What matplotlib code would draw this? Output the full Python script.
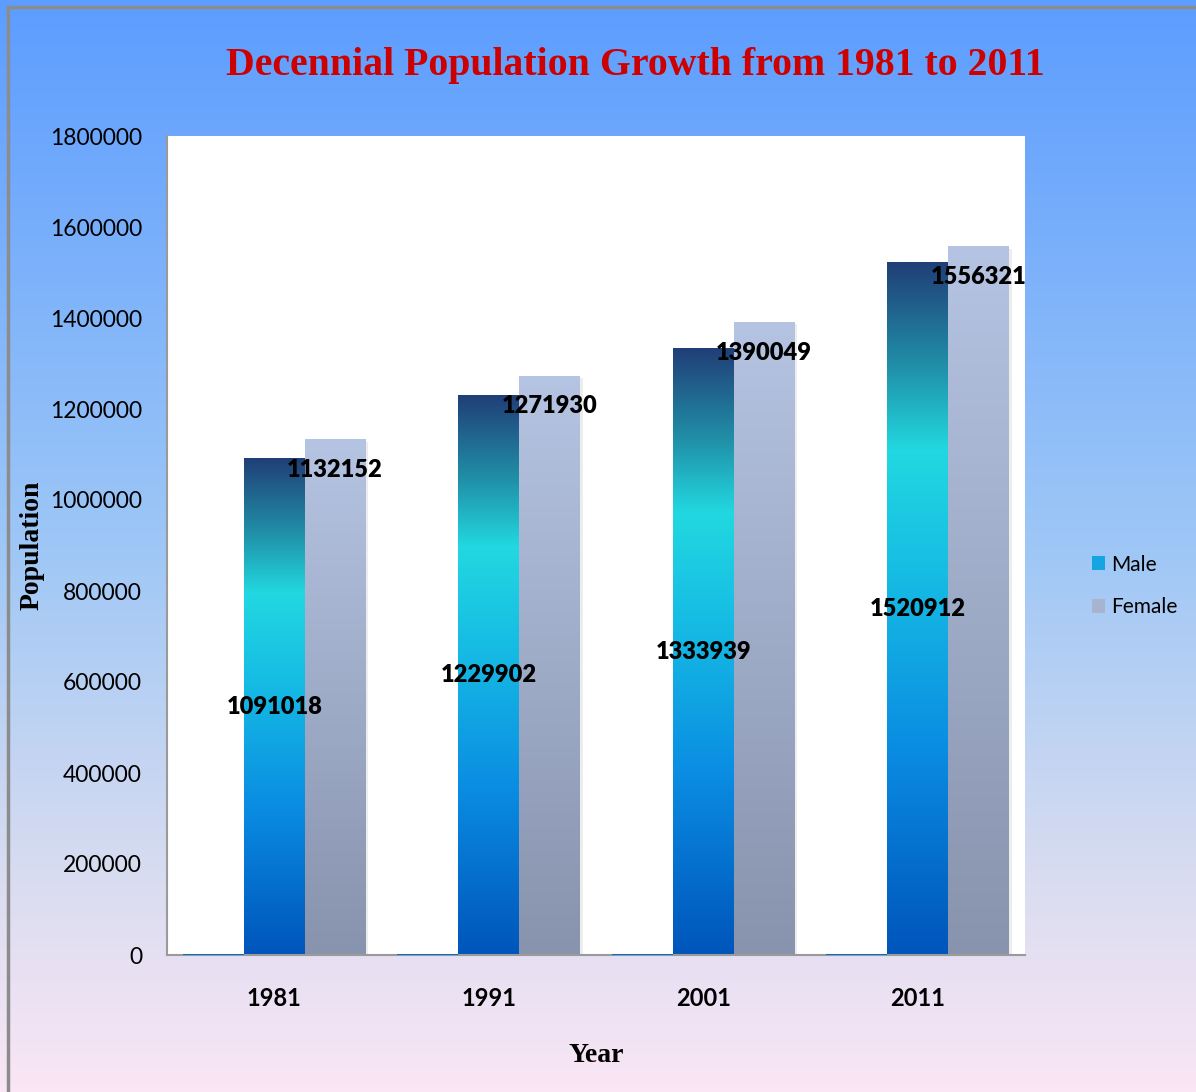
import numpy as np
import matplotlib.pyplot as plt
from matplotlib.colors import LinearSegmentedColormap
from matplotlib.patches import Patch
from matplotlib.lines import Line2D

years = ['1981', '1991', '2001', '2011']
year_series = [1981, 1991, 2001, 2011]
male = [1091018, 1229902, 1333939, 1520912]
female = [1132152, 1271930, 1390049, 1556321]

fig = plt.figure(figsize=(11.96, 10.92), dpi=100)

# figure background gradient (blue at top to pink at bottom)
bg = fig.add_axes([0, 0, 1, 1], zorder=-10)
bg_cmap = LinearSegmentedColormap.from_list('bg', [
    (0.0, '#fae6f5'), (0.2, '#d8dcf0'), (0.5, '#9ec7f6'), (1.0, '#5c9dff')])
bg.imshow(np.linspace(0, 1, 256).reshape(-1, 1), cmap=bg_cmap, origin='lower',
          aspect='auto', extent=[0, 1, 0, 1])
bg.axis('off')
# outer frame lines
fig.add_artist(Line2D([7.5 / 1196, 7.5 / 1196], [0, 1 - 6.5 / 1092], color='#8c8c8c', lw=2.5))
fig.add_artist(Line2D([7.5 / 1196, 1], [1 - 6.5 / 1092, 1 - 6.5 / 1092], color='#8c8c8c', lw=2.5))

ax = fig.add_axes([167 / 1196, 137 / 1092, 858 / 1196, 819 / 1092])
ax.set_facecolor('white')

male_cmap = LinearSegmentedColormap.from_list('male', [
    (0.0, '#0055bb'), (0.3, '#0a8de2'), (0.55, '#16bce4'), (0.73, '#22d8e0'),
    (0.85, '#2090a8'), (1.0, '#213f78')])
female_cmap = LinearSegmentedColormap.from_list('female', [
    (0.0, '#8893ad'), (1.0, '#b5c4e2')])

x = np.arange(len(years))
w = 0.284
ax.bar(x - w, year_series, w, color='#0a6cc8', zorder=3)
male_bars = ax.bar(x, male, w, color='none', zorder=2)
female_bars = ax.bar(x + w, female, w, color='none', zorder=2)

grad = np.linspace(0, 1, 256).reshape(-1, 1)
for bars, cm in ((male_bars, male_cmap), (female_bars, female_cmap)):
    for b in bars:
        x0, h, bw = b.get_x(), b.get_height(), b.get_width()
        # soft shadow on the right
        ax.add_patch(plt.Rectangle((x0 + 0.012, 0), bw, h - 4000, color='#000000',
                                   alpha=0.07, lw=0, zorder=1))
        ax.imshow(grad, cmap=cm, origin='lower', aspect='auto',
                  extent=[x0, x0 + bw, 0, h], zorder=2, interpolation='bilinear')

ax.set_xlim(-0.5, 3.5)
ax.set_ylim(0, 1800000)

lab_font = dict(fontfamily='Lato', fontsize=17, fontweight='heavy', color='black', zorder=5)
for i in range(len(years)):
    ax.text(x[i], male[i] / 2, str(male[i]), ha='center', va='center', **lab_font)
    ax.annotate(str(female[i]), (x[i] + w, female[i]), xytext=(0, -30),
                textcoords='offset pixels', ha='center', va='center', **lab_font)

ax.set_xticks(x)
ax.set_xticklabels(years, fontfamily='Lato', fontsize=17, fontweight='bold')
ax.set_yticks(np.arange(0, 1800001, 200000))
ax.set_yticklabels([str(v) for v in range(0, 1800001, 200000)], fontfamily='Lato', fontsize=16.5)
ax.tick_params(axis='both', length=0)
ax.tick_params(axis='x', pad=23)
ax.tick_params(axis='y', pad=18)
for s in ('top', 'right'):
    ax.spines[s].set_visible(False)
ax.spines['left'].set_color('#9a9a9a')
ax.spines['bottom'].set_color('#9a9a9a')
ax.spines['left'].set_linewidth(1.5)
ax.spines['bottom'].set_linewidth(1.5)

ax.set_xlabel('Year', fontfamily='Liberation Serif', fontsize=20, fontweight='bold', labelpad=24)
fig.text(32 / 1196, 1 - 545 / 1092, 'Population', rotation=90, ha='center', va='center',
         fontfamily='Liberation Serif', fontsize=20, fontweight='bold')
fig.text(635 / 1196, 1 - 66 / 1092, 'Decennial Population Growth from 1981 to 2011',
         ha='center', va='center', fontfamily='Liberation Serif', fontsize=28.6,
         fontweight='bold', color='#cc0000')

handles = [Patch(facecolor='#15a6e2', label='Male'), Patch(facecolor='#a7b3cf', label='Female')]
fig.legend(handles=handles, loc='center left', bbox_to_anchor=(1073 / 1196, 1 - 586 / 1092),
           frameon=False, prop={'family': 'Lato', 'size': 15}, handlelength=0.65,
           handleheight=0.65, handletextpad=0.3, labelspacing=1.1)

fig.savefig('out.png', dpi=100)
